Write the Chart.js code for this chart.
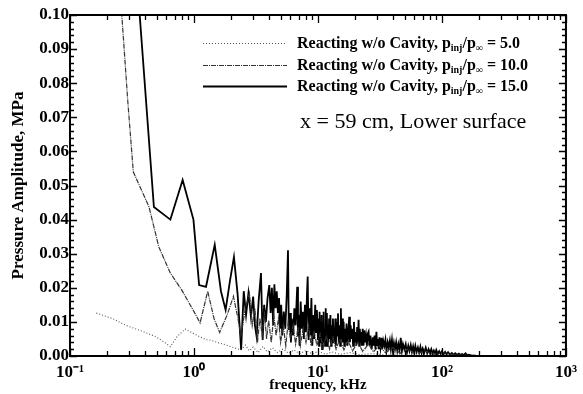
<!DOCTYPE html>
<html>
<head>
<meta charset="utf-8">
<script src="https://cdn.jsdelivr.net/npm/chart.js@4/dist/chart.umd.min.js"></script>
<style>
html, body { margin: 0; padding: 0; background: #fff; }
</style>
</head>
<body>
<canvas id="pressureChart" width="583" height="394"></canvas>
<script>
// pressure ratio of each run, used in the legend
var ratios = ['5.0', '10.0', '15.0'];

// x axis decades and their labels
var xTicks = [0.1, 1, 10, 100, 1000];
var xTickLabels = ['10\u207B\u00B9', '10\u2070', '10\u00B9', '10\u00B2', '10\u00B3'];

// p_inj/p_inf = 5.0 (dotted)
var freq5 = [0.163, 0.22, 0.282, 0.38, 0.49, 0.58, 0.645, 0.73, 0.85, 1.0, 1.12, 1.25, 1.38, 1.6, 1.8, 1.99,
    2.2, 2.4, 2.6, 2.8, 3.0, 3.3, 3.6, 3.9, 4.3, 4.7, 5.2, 5.8, 6.4, 7.1, 8.0, 9.0, 10.0, 11.5, 13, 15, 18, 22,
    27, 35, 50, 80, 150, 1000];
var amp5 = [0.0126, 0.011, 0.009, 0.0073, 0.0057, 0.004, 0.0027, 0.0057, 0.0079, 0.0065, 0.0056, 0.0048, 0.0046,
    0.0038, 0.0033, 0.0027, 0.0022, 0.0018, 0.0032, 0.0015, 0.0026, 0.001, 0.0028, 0.0012, 0.0024, 0.001, 0.002,
    0.0008, 0.0018, 0.0007, 0.0016, 0.0006, 0.0014, 0.0005, 0.0012, 0.0005, 0.001, 0.0004, 0.0007, 0.0003,
    0.0002, 0.0001, 0, 0];

// p_inj/p_inf = 10.0 (dash-dot)
var freq10 = [0.245, 0.292, 0.324, 0.434, 0.52, 0.645, 0.795, 1.0, 1.12, 1.29, 1.45, 1.61, 1.85, 2.08, 2.25, 2.39,
    2.6, 2.8, 2.95, 3.1, 3.25, 3.4, 3.55, 3.7, 3.85, 4.0, 4.2, 4.4, 4.6, 4.8, 5.0, 5.25, 5.5, 5.75, 6.0, 6.3, 6.6,
    6.9, 7.2, 7.6, 8.0, 8.4, 8.8, 9.3, 9.8, 10.4, 11.0, 11.7, 12.4, 13.2, 14.0, 15.0, 16.2, 17.5, 19.0, 21.0,
    23.0, 25.5, 28.0, 31.0, 35.0, 40.0, 46.0, 53.0, 62.0, 72.0, 85.0, 100, 130, 200, 400, 1000];
var amp10 = [0.115, 0.075, 0.054, 0.0437, 0.032, 0.0243, 0.0194, 0.013, 0.0097, 0.019, 0.011, 0.0069, 0.012,
    0.0175, 0.0115, 0.006, 0.014, 0.0184, 0.009, 0.014, 0.004, 0.011, 0.006, 0.013, 0.005, 0.0105, 0.004, 0.012,
    0.006, 0.011, 0.004, 0.009, 0.003, 0.01, 0.005, 0.009, 0.0035, 0.0085, 0.003, 0.008, 0.004, 0.009, 0.003,
    0.0075, 0.003, 0.0065, 0.0025, 0.006, 0.002, 0.0055, 0.002, 0.005, 0.0018, 0.0045, 0.0015, 0.004, 0.0013,
    0.0035, 0.0012, 0.003, 0.001, 0.0025, 0.0008, 0.002, 0.0006, 0.0015, 0.0005, 0.001, 0.0003, 0.0001, 0, 0];

// p_inj/p_inf = 15.0 (solid)
var freq15 = [0.34, 0.475, 0.645, 0.81, 0.99, 1.10, 1.25, 1.47, 1.65, 1.80, 1.95, 2.10, 2.25, 2.40,
    2.52, 2.63, 2.75, 2.88, 3.0, 3.1, 3.2, 3.32, 3.47, 3.58, 3.68, 3.8, 3.92, 4.05, 4.15, 4.25, 4.35, 4.45, 4.55,
    4.65, 4.75, 4.85, 4.95, 5.05, 5.15, 5.3, 5.45, 5.6, 5.73, 5.82, 5.95, 6.05, 6.15, 6.3, 6.45, 6.6, 6.8, 6.9,
    7.0, 7.1, 7.25, 7.4, 7.55, 7.7, 7.85, 8.0, 8.15, 8.26, 8.4, 8.55, 8.7, 8.85, 9.0, 9.15, 9.3, 9.5, 9.65, 9.8,
    10.0, 10.1, 10.2, 10.3, 10.4, 10.5, 10.6, 10.7, 10.8, 10.9, 11.0, 11.1, 11.2, 11.3, 11.4, 11.5, 11.6, 11.7,
    11.8, 11.9, 12.0, 12.15, 12.3, 12.45, 12.6, 12.75, 12.9, 13.05, 13.2, 13.35, 13.5, 13.65, 13.8, 13.95, 14.1,
    14.3, 14.5, 14.7, 14.9, 15.1, 15.3, 15.5, 15.7, 15.9, 16.1, 16.3, 16.5, 16.75, 17.0, 17.3, 17.6, 17.85, 18.1,
    18.35, 18.6, 18.9, 19.2, 19.5, 19.8, 20.1, 20.4, 20.7, 21.0, 21.25, 21.5, 21.75, 22.0, 22.3, 22.6, 22.95,
    23.3, 23.65, 24.0, 24.4, 24.8, 25.2, 25.6, 26.0, 26.5, 27.1, 27.7, 28.1, 28.6, 29.1, 29.6, 30.0, 30.5, 30.9,
    31.3, 31.9, 32.5, 33.0, 33.6, 34.3, 35.0, 35.7, 36.5, 37.2, 38.0, 38.7, 39.5, 40.2, 41.0, 41.8, 42.7, 43.6,
    44.5, 45.5, 46.5, 47.5, 48.5, 49.7, 51.0, 52.2, 53.5, 54.7, 56.0, 57.2, 58.5, 59.7, 61.0, 62.5, 64.0, 65.5,
    67.0, 68.5, 70.0, 72.0, 74.0, 76.0, 78.0, 80.0, 82.0, 84.0, 86.0, 88.0, 90.0, 92.5, 95.0, 97.5, 100, 103,
    106, 109, 112, 116, 120, 124, 128, 132, 137, 141, 145, 150, 155, 160, 165, 172, 180, 190, 202, 208, 215, 225,
    240, 300, 1000];
var amp15 = [0.115, 0.0437, 0.040, 0.0516, 0.040, 0.0208, 0.0203, 0.0326, 0.019, 0.0135, 0.022, 0.029, 0.018,
    0.0018, 0.019, 0.012, 0.0185, 0.0115, 0.0174, 0.009, 0.0057, 0.016, 0.0243, 0.0047, 0.015, 0.01, 0.017,
    0.0208, 0.0126, 0.02, 0.009, 0.021, 0.014, 0.019, 0.0126, 0.017, 0.008, 0.015, 0.006, 0.013, 0.008, 0.018,
    0.031, 0.0076, 0.0126, 0.004, 0.011, 0.006, 0.014, 0.009, 0.0203, 0.0057, 0.012, 0.003, 0.016, 0.008, 0.013,
    0.005, 0.015, 0.007, 0.018, 0.0233, 0.0047, 0.014, 0.006, 0.017, 0.003, 0.012, 0.005, 0.015, 0.007, 0.0135,
    0.0047, 0.011, 0.003, 0.013, 0.006, 0.009, 0.004, 0.012, 0.002, 0.010, 0.004, 0.013, 0.005, 0.008, 0.003,
    0.014, 0.005, 0.010, 0.0126, 0.003, 0.009, 0.004, 0.011, 0.005, 0.012, 0.003, 0.009, 0.004, 0.011, 0.006,
    0.008, 0.004, 0.011, 0.003, 0.010, 0.006, 0.0125, 0.004, 0.009, 0.003, 0.014, 0.005, 0.011, 0.004, 0.010,
    0.003, 0.008, 0.004, 0.0095, 0.003, 0.007, 0.0115, 0.004, 0.009, 0.005, 0.008, 0.003, 0.010, 0.004, 0.007,
    0.003, 0.0085, 0.004, 0.0106, 0.003, 0.008, 0.004, 0.007, 0.003, 0.008, 0.003, 0.0075, 0.004, 0.006, 0.003,
    0.0065, 0.0071, 0.003, 0.006, 0.002, 0.0055, 0.003, 0.006, 0.002, 0.0071, 0.003, 0.005, 0.002, 0.0055,
    0.0025, 0.0053, 0.002, 0.0045, 0.003, 0.0048, 0.0015, 0.004, 0.0025, 0.0045, 0.002, 0.0047, 0.0015, 0.0038,
    0.002, 0.004, 0.0015, 0.0035, 0.0018, 0.0053, 0.0015, 0.0035, 0.002, 0.0035, 0.001, 0.003, 0.0015, 0.0032,
    0.0012, 0.0028, 0.001, 0.003, 0.0012, 0.0025, 0.001, 0.0027, 0.0009, 0.0022, 0.001, 0.0024, 0.0008, 0.002,
    0.0009, 0.002, 0.0007, 0.0016, 0.0008, 0.0018, 0.0006, 0.0014, 0.0006, 0.0014, 0.0005, 0.0012, 0.0005,
    0.0011, 0.0004, 0.0009, 0.0004, 0.0008, 0.0003, 0.0007, 0.0003, 0.0006, 0.0003, 0.0008, 0.0002, 0.0004,
    0.0002, 0.0001, 0, 0];

var serif = "'Liberation Serif', 'Times New Roman', serif";

function toPoints(xs, ys) {
    var pts = [];
    for (var i = 0; i < xs.length; i++) {
        pts.push({ x: xs[i], y: ys[i] });
    }
    return pts;
}

var lineStyles = [
    { color: '#555', dash: [1, 2], width: 1.1 },
    { color: '#333', dash: [5, 1, 1, 1], width: 1.2 },
    { color: '#000', dash: [], width: 1.8 }
];

// inward tick marks on all four sides, plus the frame
var tickMarks = {
    id: 'tickMarks',
    afterDraw: function (chart) {
        var ctx = chart.ctx;
        var a = chart.chartArea;
        var xs = chart.scales.x;
        var ys = chart.scales.y;
        ctx.save();
        ctx.strokeStyle = '#000';
        ctx.lineWidth = 1.3;
        ctx.beginPath();
        for (var i = 0; i <= 50; i++) {
            var py = Math.round(ys.getPixelForValue(i * 0.002)) + 0.5;
            var len = (i % 5 == 0) ? 7 : 4;
            ctx.moveTo(a.left, py);
            ctx.lineTo(a.left + len, py);
            ctx.moveTo(a.right, py);
            ctx.lineTo(a.right - len, py);
        }
        for (var d = 0; d < xTicks.length; d++) {
            for (var m = 1; m <= 9; m++) {
                var v = xTicks[d] * m;
                if (v > xTicks[xTicks.length - 1]) break;
                var px = Math.round(xs.getPixelForValue(v)) + 0.5;
                var l = (m == 1) ? 8 : 5;
                ctx.moveTo(px, a.bottom);
                ctx.lineTo(px, a.bottom - l);
                ctx.moveTo(px, a.top);
                ctx.lineTo(px, a.top + l);
            }
        }
        ctx.stroke();
        ctx.lineWidth = 2;
        ctx.strokeRect(a.left, a.top, a.right - a.left, a.bottom - a.top);
        ctx.restore();
    }
};

// legend with subscripts and the location note
var legendBox = {
    id: 'legendBox',
    afterDraw: function (chart) {
        var ctx = chart.ctx;
        var rowsY = [43, 65, 86];
        ctx.save();
        for (var i = 0; i < ratios.length; i++) {
            var y = rowsY[i];
            var s = lineStyles[i];
            ctx.strokeStyle = s.color;
            ctx.lineWidth = s.width;
            ctx.setLineDash(s.dash);
            ctx.beginPath();
            ctx.moveTo(203, y + 0.5);
            ctx.lineTo(287, y + 0.5);
            ctx.stroke();
            ctx.setLineDash([]);

            var x = 297;
            var base = y + 5;
            var big = 'bold 16px ' + serif;
            var small = 'bold 10px ' + serif;
            ctx.fillStyle = '#000';
            ctx.textBaseline = 'alphabetic';
            ctx.textAlign = 'left';
            var parts = [
                ['Reacting w/o Cavity, p', big, 0],
                ['inj', small, 3],
                ['/p', big, 0],
                ['\u221E', small, 3],
                [' = ' + ratios[i], big, 0]
            ];
            for (var k = 0; k < parts.length; k++) {
                ctx.font = parts[k][1];
                ctx.fillText(parts[k][0], x, base + parts[k][2]);
                x += ctx.measureText(parts[k][0]).width;
            }
        }
        ctx.font = '22px ' + serif;
        ctx.fillText('x = 59 cm, Lower surface', 300, 128);
        ctx.restore();
    }
};

var ctx = document.getElementById('pressureChart').getContext('2d');
var pressureChart = new Chart(ctx, {
    type: 'line',
    data: {
        datasets: [
            { data: toPoints(freq5, amp5) },
            { data: toPoints(freq10, amp10) },
            { data: toPoints(freq15, amp15) }
        ].map(function (ds, i) {
            ds.borderColor = lineStyles[i].color;
            ds.borderDash = lineStyles[i].dash;
            ds.borderWidth = lineStyles[i].width;
            ds.pointRadius = 0;
            ds.tension = 0;
            ds.fill = false;
            return ds;
        })
    },
    options: {
        responsive: false,
        animation: false,
        layout: { padding: { top: 15, right: 6, left: 0, bottom: 0 } },
        plugins: {
            legend: { display: false },
            tooltip: { enabled: false }
        },
        scales: {
            x: {
                type: 'logarithmic',
                min: 0.1,
                max: 1000,
                afterBuildTicks: function (scale) {
                    scale.ticks = xTicks.map(function (v) { return { value: v }; });
                },
                afterFit: function (scale) { scale.height = 38; },
                grid: { display: false, drawTicks: false },
                border: { display: false },
                ticks: {
                    autoSkip: false,
                    maxRotation: 0,
                    padding: 6,
                    color: '#000',
                    font: { family: serif, size: 17, weight: 'bold' },
                    callback: function (value) {
                        var idx = xTicks.indexOf(value);
                        return idx >= 0 ? xTickLabels[idx] : '';
                    }
                },
                title: {
                    display: true,
                    text: 'frequency, kHz',
                    color: '#000',
                    padding: 0,
                    font: { family: serif, size: 15, weight: 'bold' }
                }
            },
            y: {
                min: 0,
                max: 0.1,
                afterFit: function (scale) { scale.width = 70; },
                grid: { display: false, drawTicks: false },
                border: { display: false },
                ticks: {
                    stepSize: 0.01,
                    padding: 1,
                    color: '#000',
                    font: { family: serif, size: 17, weight: 'bold' },
                    callback: function (value) { return value.toFixed(2); }
                },
                title: {
                    display: true,
                    text: 'Pressure Amplitude, MPa',
                    color: '#000',
                    padding: { top: 8, bottom: 0 },
                    font: { family: serif, size: 17, weight: 'bold' }
                }
            }
        }
    },
    plugins: [tickMarks, legendBox]
});
</script>
</body>
</html>
